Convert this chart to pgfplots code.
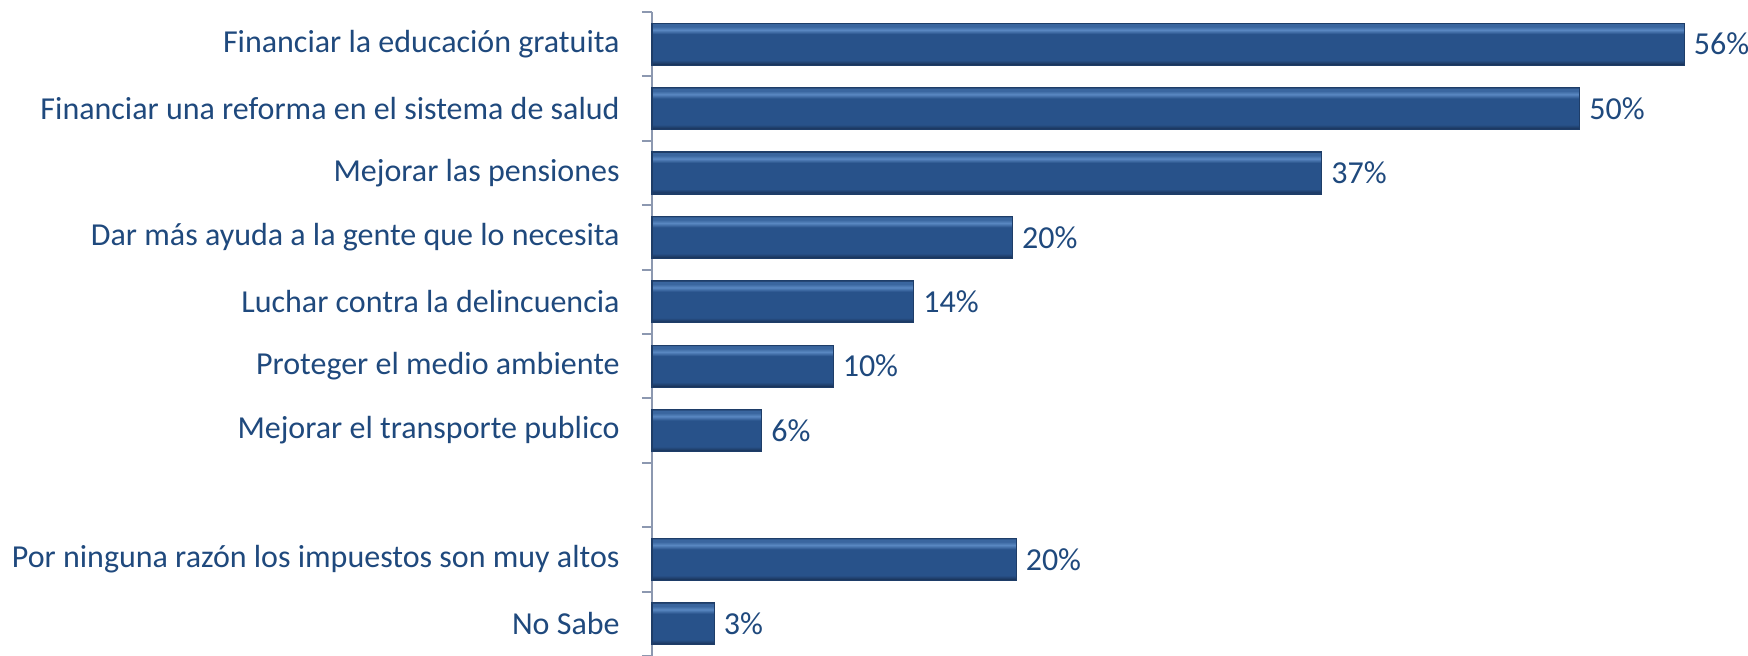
\documentclass[border=0pt]{standalone}
\usepackage{pgfplots}
\pgfplotsset{compat=1.18}
\usepackage{fontspec}
\setmainfont{Carlito}
\definecolor{txt}{HTML}{1F497D}
\definecolor{axc}{HTML}{8C98B0}
\definecolor{bmain}{HTML}{28528A}
\definecolor{bdark}{HTML}{132848}
\definecolor{bdark2}{HTML}{1D3A64}
\definecolor{blight}{HTML}{5A88C2}
\definecolor{bmid}{HTML}{3A669F}
\definecolor{bedge}{HTML}{1E3D68}
\pgfdeclareverticalshading{bevel}{100bp}{color(0bp)=(bdark); color(25bp)=(bdark); color(27bp)=(bdark2); color(31bp)=(bmain); color(62bp)=(bmain); color(67bp)=(blight); color(71bp)=(bmid); color(74bp)=(bmid); color(75bp)=(bedge); color(100bp)=(bedge)}
\pgfplotsset{bevelbar/.style={shading=bevel, draw=bedge, line width=0.6pt, bar shift=0pt}}
\begin{document}
\begin{tikzpicture}
\begin{axis}[
  scale only axis, width=546.3pt, height=322pt,
  xmin=0, xmax=59.7, ymin=0.5, ymax=10.5, y dir=reverse,
  hide x axis, axis y line*=left,
  axis line style={axc, line width=1pt},
  ytick={1,2,3,4,5,6,7,9,10},
  yticklabels={Financiar la educación gratuita,Financiar una reforma en el sistema de salud,Mejorar las pensiones,Dar más ayuda a la gente que lo necesita,Luchar contra la delincuencia,Proteger el medio ambiente,Mejorar el transporte publico,Por ninguna razón los impuestos son muy altos,No Sabe},
  major tick length=0pt,
  minor ytick={0.5,1.5,2.5,3.5,4.5,5.5,6.5,7.5,8.5,9.5,10.5},
  minor tick length=5pt, tick align=outside,
  minor tick style={axc, line width=1pt},
  yticklabel style={font=\fontsize{16}{19}\selectfont, text=txt, inner sep=0pt, xshift=-16pt},
  xbar, bar width=21pt,
  nodes near coords, point meta=explicit symbolic,
  nodes near coords style={font=\fontsize{16}{19}\selectfont, text=txt, anchor=west, inner sep=0pt, xshift=4.5pt},
  clip=false
]
\addplot[bevelbar] coordinates {(56.4,1) [56\%]};
\addplot[bevelbar] coordinates {(50.7,2) [50\%]};
\addplot[bevelbar] coordinates {(36.6,3) [37\%]};
\addplot[bevelbar] coordinates {(19.7,4) [20\%]};
\addplot[bevelbar] coordinates {(14.3,5) [14\%]};
\addplot[bevelbar] coordinates {(9.9,6) [10\%]};
\addplot[bevelbar] coordinates {(6.0,7) [6\%]};
\addplot[bevelbar] coordinates {(19.9,9) [20\%]};
\addplot[bevelbar] coordinates {(3.4,10) [3\%]};
\end{axis}
\pgfresetboundingbox
\useasboundingbox (-326pt,0) rectangle (548pt,328pt);
\end{tikzpicture}
\end{document}
